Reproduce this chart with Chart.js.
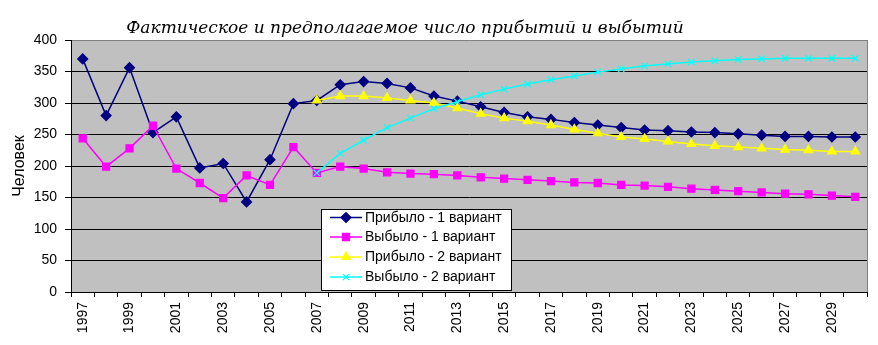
<!DOCTYPE html>
<html><head><meta charset="utf-8">
<script src="https://cdn.jsdelivr.net/npm/chart.js@4/dist/chart.umd.min.js"></script>
<style>html,body{margin:0;padding:0;background:#fff}#wrap{width:878px;height:345px;position:relative}</style>
</head><body><div id="wrap"><canvas id="c" width="878" height="345"></canvas></div>
<script>
const years = ['1997','1998','1999','2000','2001','2002','2003','2004','2005','2006','2007','2008','2009','2010','2011','2012','2013','2014','2015','2016','2017','2018','2019','2020','2021','2022','2023','2024','2025','2026','2027','2028','2029','2030'];
const arrivals1 = [370,280,356,253,278,197,204,143,210,299,304,329,334,331,324,311,303,294,285,278,274,269,265,261,257,256,254,253,251,249,247,247,246,246];
const departures1 = [244,199,228,264,196,173,149,185,170,230,189,199,196,190,188,187,185,182,180,178,176,174,173,170,169,167,164,162,160,158,156,155,153,151];
const arrivals2 = [null,null,null,null,null,null,null,null,null,null,304,311,311,308,304,300,292,283,276,271,265,258,252,246,243,239,235,232,230,228,226,225,223,223];
const departures2 = [null,null,null,null,null,null,null,null,null,null,189,220,241,261,276,291,302,313,322,330,337,343,349,354,359,362,365,367,369,370,371,371,371,371];
const seriesNames = ['Прибыло - 1 вариант','Выбыло - 1 вариант','Прибыло - 2 вариант','Выбыло - 2 вариант'];
const titleText = 'Фактическое и предполагаемое число прибытий и выбытий';
const yTitle = 'Человек';
const yMin = 0, yMax = 400, yStep = 50;

const SANS = '"Liberation Sans", Arial, sans-serif';

const plotPlugin = {
  id: 'plotDeco',
  beforeDraw(chart) {
    const {ctx, chartArea: a} = chart;
    ctx.save();
    ctx.fillStyle = '#C0C0C0';
    ctx.fillRect(a.left, a.top, a.right - a.left, a.bottom - a.top);
    ctx.restore();
  },
  afterDraw(chart) {
    const {ctx, chartArea: a} = chart;
    ctx.save();
    ctx.strokeStyle = '#808080';
    ctx.lineWidth = 1;
    ctx.beginPath();
    ctx.moveTo(a.right + 0.5, a.top);
    ctx.lineTo(a.right + 0.5, a.bottom);
    ctx.stroke();
    ctx.fillStyle = '#000';
    ctx.font = 'italic 17px "DejaVu Serif", serif';
    ctx.textAlign = 'center';
    ctx.textBaseline = 'alphabetic';
    ctx.fillText(titleText, 405, 33);
    const bx = 321, by = 209, bw = 190, bh = 81;
    ctx.fillStyle = '#fff';
    ctx.fillRect(bx, by, bw, bh);
    ctx.strokeStyle = '#000';
    ctx.lineWidth = 1;
    ctx.strokeRect(bx + 0.5, by + 0.5, bw, bh);
    const rows = [217.5, 237, 257, 277];
    chart.data.datasets.forEach((ds, i) => {
      const y = rows[i];
      ctx.strokeStyle = ds.borderColor;
      ctx.lineWidth = ds.borderWidth;
      ctx.beginPath();
      ctx.moveTo(330, y);
      ctx.lineTo(362, y);
      ctx.stroke();
      ctx.fillStyle = ds.pointBackgroundColor;
      ctx.strokeStyle = ds.pointBorderColor;
      ctx.lineWidth = ds.pointBorderWidth;
      Chart.helpers.drawPoint(ctx, {pointStyle: ds.pointStyle, radius: ds.pointRadius, rotation: 0, borderWidth: ds.pointBorderWidth}, 346, y);
      ctx.fillStyle = '#000';
      ctx.font = '14px ' + SANS;
      ctx.textAlign = 'left';
      ctx.textBaseline = 'middle';
      ctx.fillText(ds.label, 365, y + 0.5);
    });
    ctx.restore();
  }
};

function mk(label, data, color, style, radius, order, fill) {
  return {
    label, data, borderColor: color, backgroundColor: color,
    borderWidth: 1.5, pointStyle: style, pointRadius: radius,
    pointBackgroundColor: fill, pointBorderColor: color, pointBorderWidth: 1.2,
    tension: 0, spanGaps: false, order
  };
}

new Chart(document.getElementById('c'), {
  type: 'line',
  data: {
    labels: years,
    datasets: [
      mk(seriesNames[0], arrivals1, '#000080', 'rectRot', 5, 4, '#000080'),
      mk(seriesNames[1], departures1, '#FF00FF', 'rect', 5, 3, '#FF00FF'),
      mk(seriesNames[2], arrivals2, '#FFFF00', 'triangle', 5, 2, '#FFFF00'),
      mk(seriesNames[3], departures2, '#00FFFF', 'crossRot', 4.5, 1, '#00FFFF')
    ]
  },
  options: {
    responsive: false,
    animation: false,
    devicePixelRatio: 1,
    layout: {padding: {left: 0, right: 11, top: 40, bottom: 0}},
    plugins: {legend: {display: false}, title: {display: false}, tooltip: {enabled: false}},
    scales: {
      x: {
        type: 'category',
        offset: true,
        afterFit(s) { s.height = 53; },
        grid: {display: true, drawOnChartArea: false, drawTicks: true, tickLength: 5, offset: true, color: '#000', tickColor: '#000'},
        border: {display: true, color: '#000', width: 1},
        ticks: {
          autoSkip: false, maxRotation: 90, minRotation: 90, padding: 5,
          color: '#000', font: {family: SANS, size: 14},
          callback(v, i) { return i % 2 === 0 ? years[i] : ''; }
        }
      },
      y: {
        min: yMin, max: yMax,
        afterFit(s) { s.width = 71; },
        grid: {
          color: (c) => (c.tick && c.tick.value === yMax) ? '#808080' : '#000',
          tickColor: '#000', tickLength: 6, drawTicks: true, lineWidth: 1
        },
        border: {display: true, color: '#000', width: 1},
        ticks: {stepSize: yStep, padding: 8, color: '#000', font: {family: SANS, size: 14}},
        title: {display: true, text: yTitle, color: '#000', font: {family: SANS, size: 16}, padding: {top: 10, bottom: 0}}
      }
    }
  },
  plugins: [plotPlugin]
});
</script>
</body></html>
